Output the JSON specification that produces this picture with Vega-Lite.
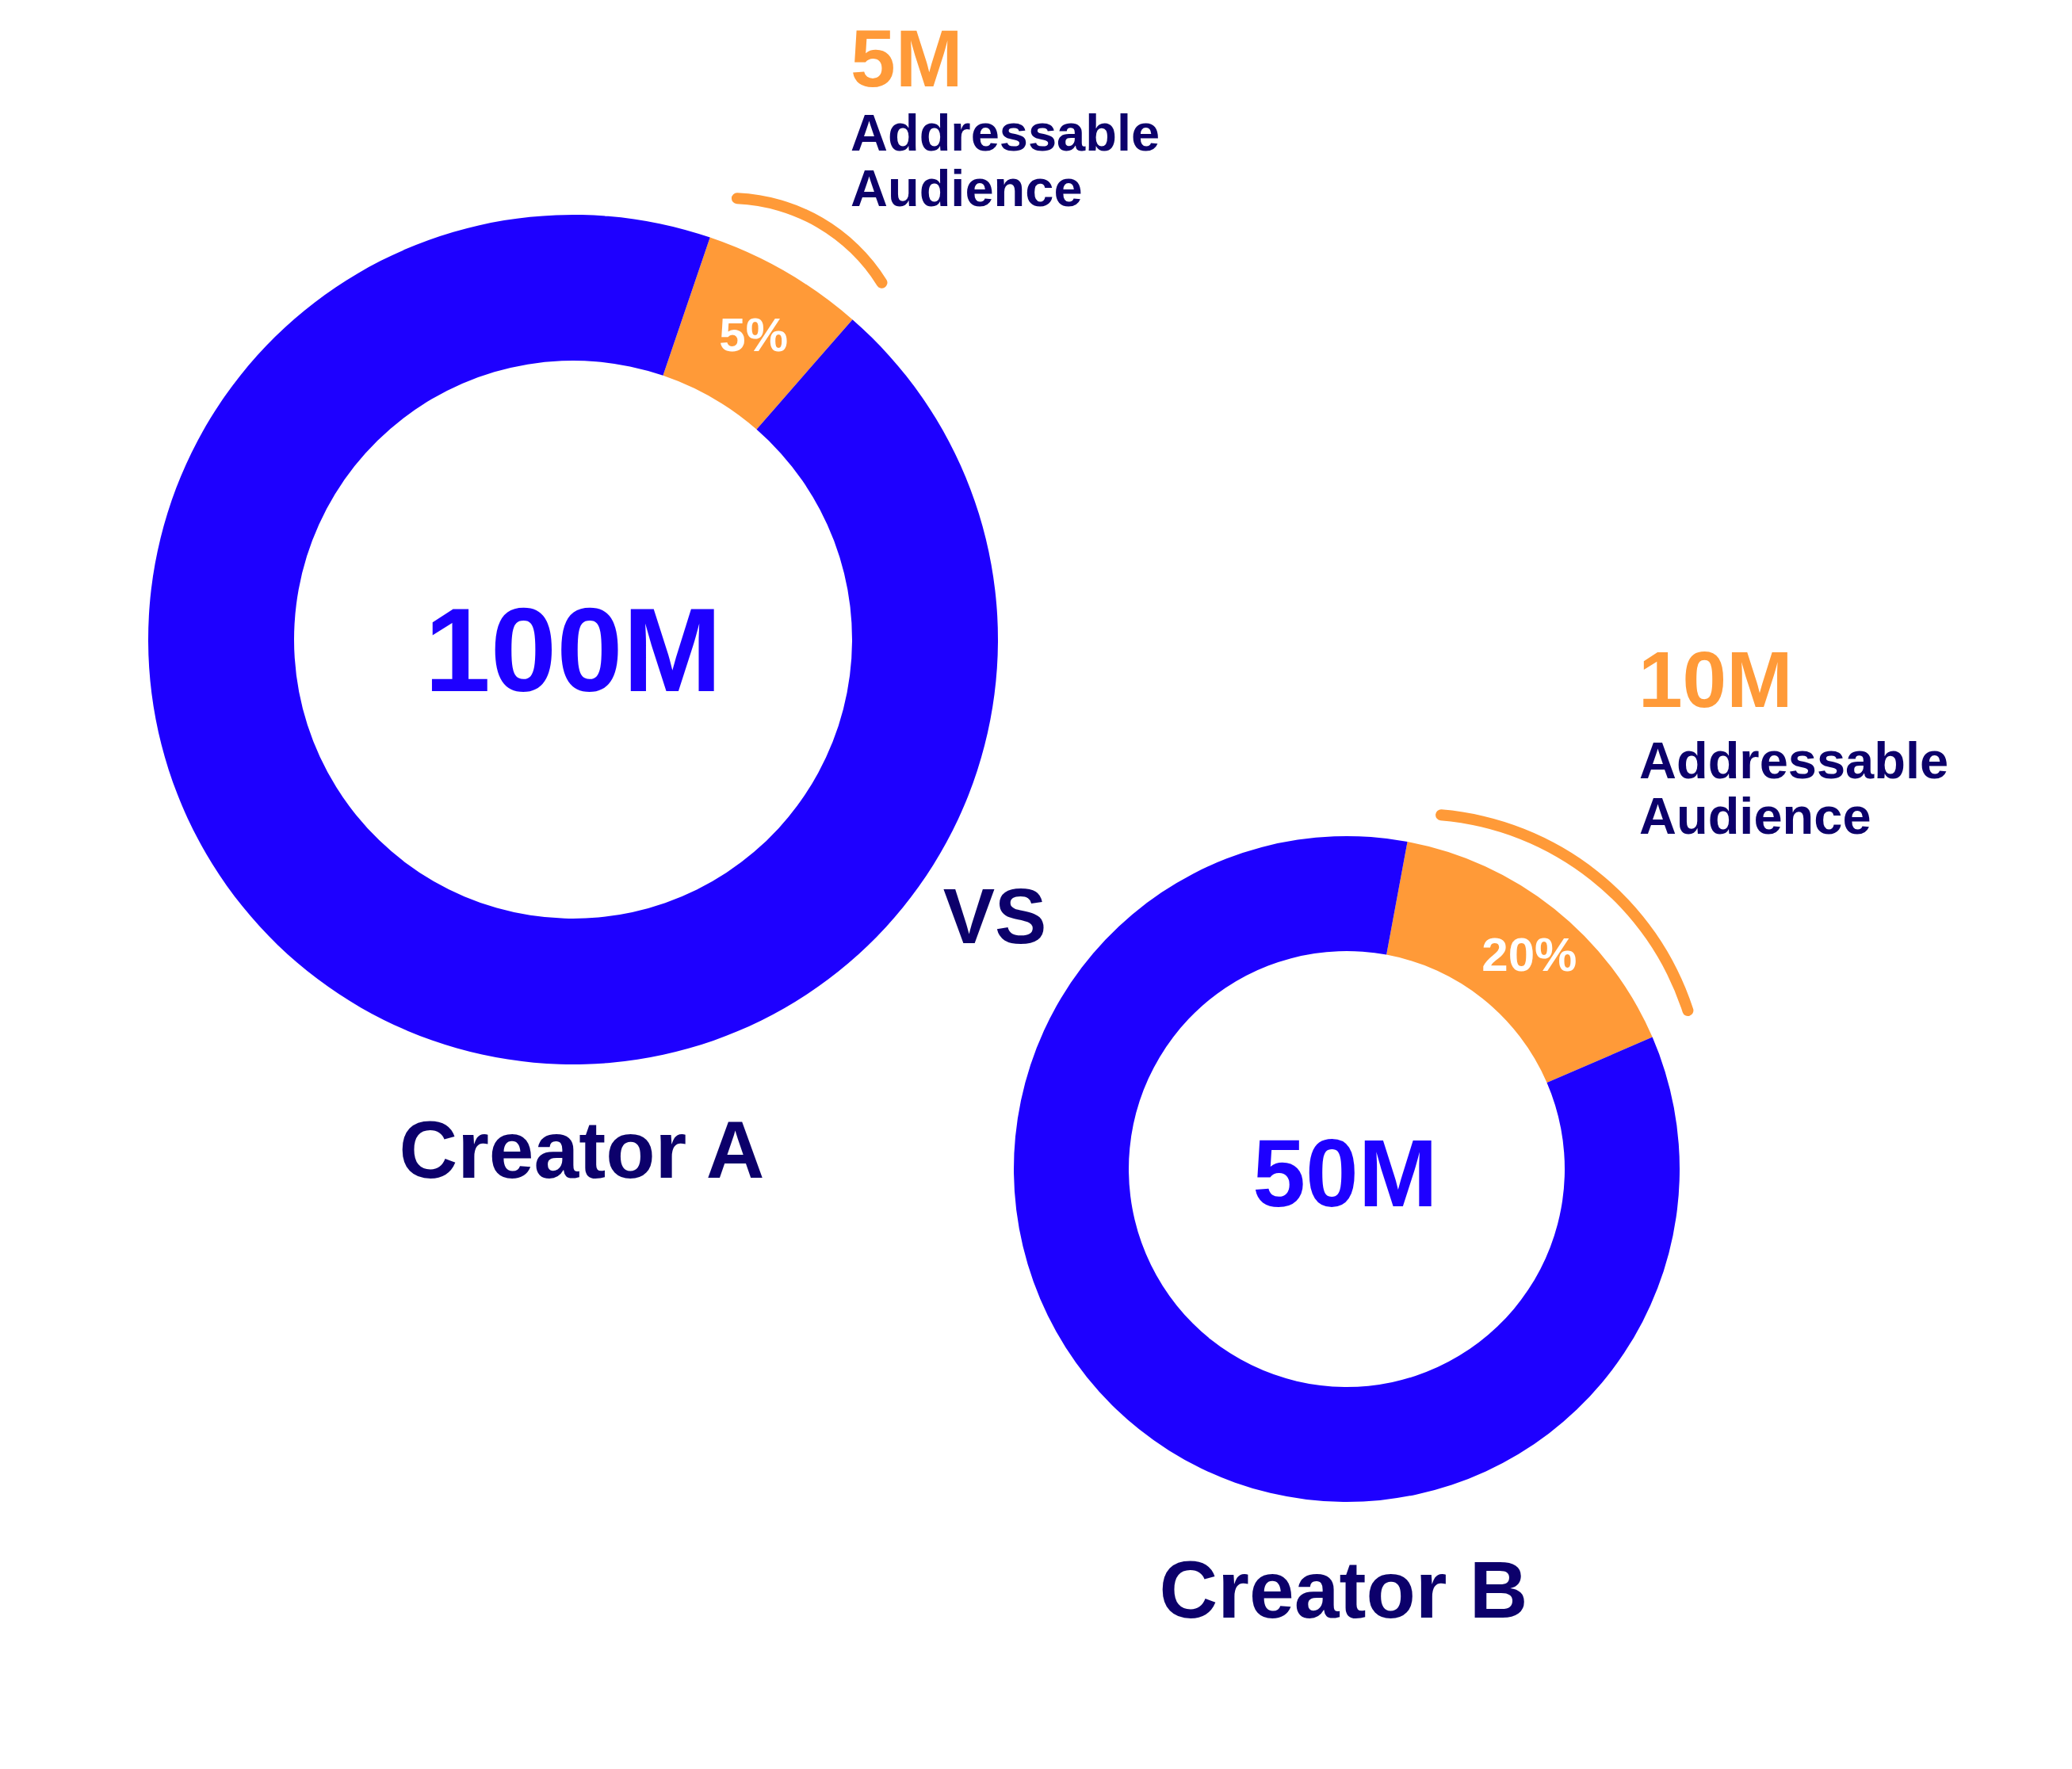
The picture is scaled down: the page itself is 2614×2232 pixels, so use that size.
{
  "$schema": "https://vega.github.io/schema/vega-lite/v6.json",
  "width": 2614,
  "height": 2232,
  "autosize": "none",
  "padding": 0,
  "background": "#ffffff",
  "config": {
    "view": {"stroke": null},
    "text": {"font": "Liberation Sans", "fontWeight": "bold"}
  },
  "datasets": {
    "audience": [
      {"creator": "Creator A", "segment": "Addressable", "share": 6.2, "pct": "5%", "total": "100M", "addressable": "5M", "caption": "Addressable\nAudience"},
      {"creator": "Creator A", "segment": "Other", "share": 93.8, "pct": "", "total": "100M", "addressable": "5M", "caption": "Addressable\nAudience"},
      {"creator": "Creator B", "segment": "Addressable", "share": 15.6, "pct": "20%", "total": "50M", "addressable": "10M", "caption": "Addressable\nAudience"},
      {"creator": "Creator B", "segment": "Other", "share": 84.4, "pct": "", "total": "50M", "addressable": "10M", "caption": "Addressable\nAudience"}
    ],
    "vs": [{"label": "VS"}]
  },
  "layer": [
    {
      "data": {"name": "audience"},
      "transform": [{"filter": "datum.creator === 'Creator A'"}],
      "encoding": {
        "x": {"field": "creator", "type": "nominal", "axis": null, "scale": {"type": "point", "domain": ["Creator A", "Creator B"], "range": [723, 1699], "padding": 0}},
        "y": {"field": "creator", "type": "nominal", "axis": null, "scale": {"type": "point", "domain": ["Creator A", "Creator B"], "range": [807, 1475], "padding": 0}}
      },
      "layer": [
        {
          "mark": {"type": "arc", "outerRadius": 536, "innerRadius": 352},
          "encoding": {
            "theta": {"field": "share", "type": "quantitative", "stack": true, "scale": {"range": [0.3281, 6.6113]}},
            "order": {"field": "segment", "type": "nominal", "sort": "ascending"},
            "color": {"field": "segment", "type": "nominal", "legend": null, "scale": {"domain": ["Addressable", "Other"], "range": ["#ff9a38", "#1e00ff"]}}
          }
        },
        {
          "mark": {"type": "text", "radius": 444, "dx": 6, "dy": 3, "fontSize": 60, "color": "#ffffff", "align": "center", "baseline": "middle"},
          "encoding": {
            "theta": {"field": "share", "type": "quantitative", "stack": true, "scale": {"range": [0.3281, 6.6113]}},
            "order": {"field": "segment", "type": "nominal", "sort": "ascending"},
            "text": {"field": "pct"}
          }
        },
        {
          "transform": [{"filter": "datum.segment === 'Addressable'"}],
          "layer": [
            {
              "mark": {"type": "text", "fontSize": 150, "color": "#1e00ff", "align": "center", "baseline": "alphabetic", "dy": 65},
              "encoding": {"text": {"field": "total"}}
            },
            {
              "mark": {"type": "text", "fontSize": 102, "color": "#0c006b", "align": "center", "baseline": "alphabetic", "dx": 11, "dy": 679},
              "encoding": {"text": {"field": "creator"}}
            },
            {
              "mark": {"type": "text", "fontSize": 102, "color": "#ff9a38", "align": "left", "baseline": "alphabetic", "dx": 350, "dy": -698},
              "encoding": {"text": {"field": "addressable"}}
            },
            {
              "mark": {"type": "text", "fontSize": 65, "lineHeight": 70, "lineBreak": "\n", "color": "#0c006b", "align": "left", "baseline": "alphabetic", "dx": 350, "dy": -617},
              "encoding": {"text": {"field": "caption"}}
            },
            {
              "mark": {"type": "arc", "theta": 0.0128, "theta2": 1.043, "outerRadius": 234, "innerRadius": 220, "cornerRadius": 7, "xOffset": 197, "yOffset": -330, "color": "#ff9a38"},
              "encoding": {}
            }
          ]
        }
      ]
    },
    {
      "data": {"name": "audience"},
      "transform": [{"filter": "datum.creator === 'Creator B'"}],
      "encoding": {
        "x": {"field": "creator", "type": "nominal", "axis": null, "scale": {"type": "point", "domain": ["Creator A", "Creator B"], "range": [723, 1699], "padding": 0}},
        "y": {"field": "creator", "type": "nominal", "axis": null, "scale": {"type": "point", "domain": ["Creator A", "Creator B"], "range": [807, 1475], "padding": 0}}
      },
      "layer": [
        {
          "mark": {"type": "arc", "outerRadius": 420, "innerRadius": 275},
          "encoding": {
            "theta": {"field": "share", "type": "quantitative", "stack": true, "scale": {"range": [0.1833, 6.4665]}},
            "order": {"field": "segment", "type": "nominal", "sort": "ascending"},
            "color": {"field": "segment", "type": "nominal", "legend": null, "scale": {"domain": ["Addressable", "Other"], "range": ["#ff9a38", "#1e00ff"]}}
          }
        },
        {
          "mark": {"type": "text", "radius": 347, "dx": 14, "dy": 3, "fontSize": 60, "color": "#ffffff", "align": "center", "baseline": "middle"},
          "encoding": {
            "theta": {"field": "share", "type": "quantitative", "stack": true, "scale": {"range": [0.1833, 6.4665]}},
            "order": {"field": "segment", "type": "nominal", "sort": "ascending"},
            "text": {"field": "pct"}
          }
        },
        {
          "transform": [{"filter": "datum.segment === 'Addressable'"}],
          "layer": [
            {
              "mark": {"type": "text", "fontSize": 120, "color": "#1e00ff", "align": "center", "baseline": "alphabetic", "dx": -2, "dy": 47},
              "encoding": {"text": {"field": "total"}}
            },
            {
              "mark": {"type": "text", "fontSize": 102, "color": "#0c006b", "align": "center", "baseline": "alphabetic", "dx": -4, "dy": 566},
              "encoding": {"text": {"field": "creator"}}
            },
            {
              "mark": {"type": "text", "fontSize": 100, "color": "#ff9a38", "align": "left", "baseline": "alphabetic", "dx": 368, "dy": -583},
              "encoding": {"text": {"field": "addressable"}}
            },
            {
              "mark": {"type": "text", "fontSize": 65, "lineHeight": 70, "lineBreak": "\n", "color": "#0c006b", "align": "left", "baseline": "alphabetic", "dx": 369, "dy": -493},
              "encoding": {"text": {"field": "caption"}}
            },
            {
              "mark": {"type": "arc", "theta": 0.0643, "theta2": 1.276, "outerRadius": 366, "innerRadius": 352, "cornerRadius": 7, "xOffset": 89, "yOffset": -89, "color": "#ff9a38"},
              "encoding": {}
            }
          ]
        }
      ]
    },
    {
      "data": {"name": "vs"},
      "mark": {"type": "text", "fontSize": 98, "color": "#0c006b", "align": "center", "baseline": "alphabetic", "dx": 532, "dy": 383},
      "encoding": {
        "x": {"datum": "Creator A", "type": "nominal", "axis": null, "scale": {"type": "point", "domain": ["Creator A", "Creator B"], "range": [723, 1699], "padding": 0}},
        "y": {"datum": "Creator A", "type": "nominal", "axis": null, "scale": {"type": "point", "domain": ["Creator A", "Creator B"], "range": [807, 1475], "padding": 0}},
        "text": {"field": "label"}
      }
    }
  ],
  "resolve": {"scale": {"theta": "independent"}}
}
